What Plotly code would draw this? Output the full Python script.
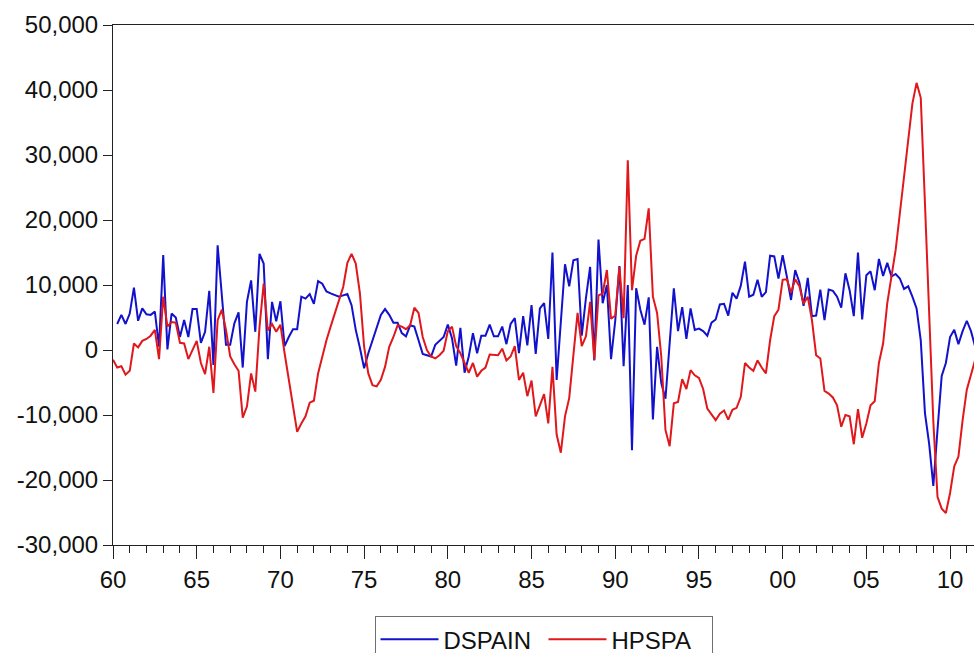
import numpy as np
import plotly.graph_objects as go

# Quarterly series starting 1960Q1 (HPSPA) and 1960Q2 (DSPAIN)
start_year = 1960
dspain = [
    4000, 5400, 4000, 5600, 9600, 4500, 6400, 5500, 5400, 5900, 500, 14600, 100, 5600, 5000, 2000,
    4600, 2000, 6300, 6300, 1100, 2800, 9100, -2300, 16100, 8000, 800, 800, 4100, 5800, -2700, 7400,
    10700, 2800, 14800,
    13300, -1400, 7400, 4400, 7500, 600, 2000, 3200, 3200, 8200, 7900, 8600, 7100, 10600, 10200, 9000,
    8700, 8500, 8200, 8400, 8600, 6900, 3100, 300, -2800, -500, 1500, 3600, 5400, 6300, 5400, 4200,
    4200, 2600, 2100,
    3800, 3600, 1500, -600, -800, -1000, 800, 1400, 2000, 3900, 1800, -2400, 3400, -3500, -1000, 2600,
    -500, 2200, 2200, 3900, 2100, 2100, 3600, 900, 4000, 4900, -500, 5200, 700, 6900, -600, 6400,
    7200, 1700,
    15000, -4600, 4300, 13200, 9800, 13800, 14000, 2200, 8000, 12800, -1600, 17000, 7200, 10000, -1400, 4500,
    12900, -2500, 10000, -15400, 9500, 6200, 3900, 8100, -10700, 500, -5100, -7500, 1000, 9500, 2900, 6600,
    1700, 6400, 3100,
    3300, 2900, 2200, 4200, 4700, 7000, 7100, 5300, 8800, 7900, 9900, 13600, 8200, 8500, 10800, 8200,
    8900, 14500, 14400, 11000, 14600, 11300, 7700, 12300, 10400, 6800, 11100, 5200, 5300, 9300, 4600, 9300,
    9100, 8200, 6500,
    11800, 9200, 5200, 15000, 4700, 11500, 12100, 9200, 14000, 11400, 13400, 11300, 11700, 11000, 9400, 9800,
    8200, 6400, 1500, -9700, -14400, -20900, -12300, -4000, -2000, 2000, 3100, 900, 2900, 4500, 2900, 500,
]
hpspa = [
    -1500, -2700, -2500, -3800, -3200, 1000, 400, 1400, 1700, 2200, 3100, -1400, 8200, 3600, 4300, 4200,
    1100, 1000, -1400, 100, 1400, -2000, -3700, 500, -6600, 4600, 6200, 3100, -1000, -2200, -3200, -10400,
    -8700, -3600, -6400, 3500,
    10200, 3000, 4000, 2800, 3900, -500, -4600, -8700, -12600, -11300, -10200, -8100, -7800, -3600, -1000, 1500,
    3600, 5600, 7700, 9700, 13400, 14800, 13300, 8700, 500, -3600, -5400, -5600, -4600, -2600, 500, 2000,
    3800, 3600, 3200,
    3800, 6500, 5700, 2000, 0, -1000, -1300, -800, -100, 2900, 3600, 600, -500, -2000, -3500, -2000,
    -4100, -3200, -2700, -700, -700, -800, 200, -1600, -1000, 600, -4600, -3500, -7100, -4700, -10200, -8500,
    -6800, -11300,
    -2600, -13000, -15800, -10200, -7400, -800, 5700, 600, 2100, 7400, -1500, 8400, 8700, 12300, 4800, 5300,
    12800, 4900, 29200, 9200, 14500, 16800, 17100, 21800, 8200, 5700, -1000, -12300, -14800, -8200, -8000, -4500,
    -6000, -3100, -3900,
    -4300, -6000, -9000, -10000, -10800, -9800, -9300, -10700, -9200, -8900, -7200, -2000, -2700, -3200, -1600, -2700,
    -3600, 1500, 5200, 6200, 10800, 10900, 8800, 10900, 9800, 7100, 8200, 4600, -800, -1300, -6300, -6700,
    -7300, -8500, -11800,
    -10000, -10200, -14500, -9100, -13500, -11300, -8500, -7900, -2000, 1000, 7200, 11300, 15400, 21000, 26600, 32800,
    37900, 41100, 38800, 22600, 5100, -11000, -22600, -24400, -25100, -22000, -17900, -16400, -10800, -6100, -3800, -1500,
]

x_tickvals = [1960, 1965, 1970, 1975, 1980, 1985, 1990, 1995, 2000, 2005, 2010]
x_ticktext = ["60", "65", "70", "75", "80", "85", "90", "95", "00", "05", "10"]
y_tickvals = [-30000, -20000, -10000, 0, 10000, 20000, 30000, 40000, 50000]
y_ticktext = ["-30,000", "-20,000", "-10,000", "0", "10,000", "20,000", "30,000", "40,000", "50,000"]

x_hp = start_year + np.arange(len(hpspa)) / 4.0
x_ds = start_year + (np.arange(len(dspain)) + 1) / 4.0

FONT = "Liberation Sans, Arial, sans-serif"
TXT = "#111111"

fig = go.Figure()
fig.add_trace(go.Scatter(x=x_ds, y=dspain, mode="lines", name="DSPAIN",
                         line=dict(color="#1212CC", width=2)))
fig.add_trace(go.Scatter(x=x_hp, y=hpspa, mode="lines", name="HPSPA",
                         line=dict(color="#E0181C", width=2)))

fig.update_layout(
    width=974, height=653,
    margin=dict(l=113, r=0, t=25, b=108, autoexpand=False),
    paper_bgcolor="white", plot_bgcolor="white",
    font=dict(family=FONT, size=24, color=TXT),
    showlegend=True,
    legend=dict(orientation="h", x=0.5, xanchor="center", y=-0.137, yanchor="top",
                bgcolor="white", bordercolor="#707070", borderwidth=1,
                font=dict(family=FONT, size=24, color=TXT),
                itemwidth=58, entrywidth=95, entrywidthmode="pixels", tracegroupgap=0),
)
fig.update_xaxes(
    range=[1960, 2011.43], showgrid=False, zeroline=False,
    showline=True, linecolor="#222222", linewidth=1, mirror=True,
    ticks="outside", ticklen=13, tickcolor="#222222",
    tickmode="array", tickvals=x_tickvals, ticktext=x_ticktext,
    minor=dict(tickmode="linear", tick0=1960, dtick=1, ticks="outside", ticklen=7, tickcolor="#222222"),
    tickfont=dict(family=FONT, size=24, color=TXT),
)
fig.update_yaxes(
    range=[-30000, 50000], showgrid=False, zeroline=False,
    showline=True, linecolor="#222222", linewidth=1, mirror=False,
    ticks="outside", ticklen=9, tickcolor="#222222",
    tickmode="array", tickvals=y_tickvals, ticktext=y_ticktext,
    tickfont=dict(family=FONT, size=24, color=TXT),
)

fig.write_html("out.html")
